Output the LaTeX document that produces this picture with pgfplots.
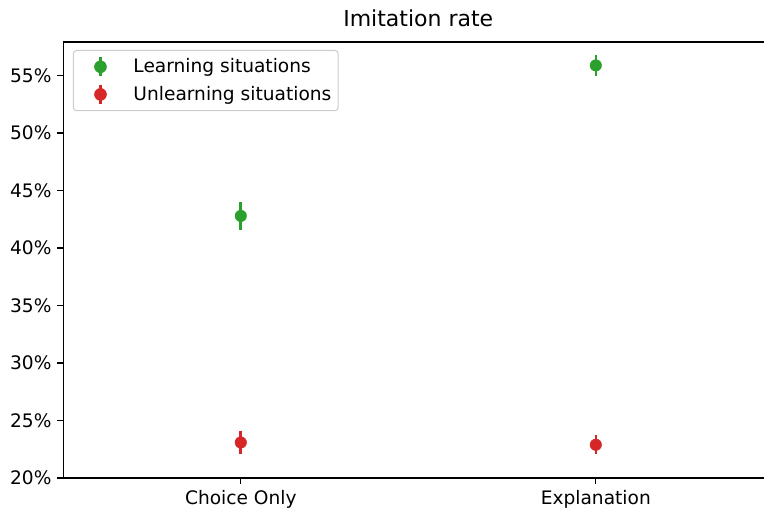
\documentclass[border=0pt]{standalone}
\usepackage{fontspec}
\setmainfont{DejaVu Sans}
\usepackage{pgfplots}
\pgfplotsset{compat=1.18}

\definecolor{mgreen}{RGB}{44,160,44}
\definecolor{mred}{RGB}{214,39,40}

% legend handle like matplotlib errorbar: vertical bar with a dot
\pgfplotsset{
  errleg/.style={legend image code/.code={
    \path[draw=none, fill=none] (0pt,0pt) -- (39.6pt,0pt);
    \draw[#1, line width=2.6pt, solid, draw opacity=1] (20.3pt,-3.5pt) -- (20.3pt,15.5pt);
    \fill[#1, fill opacity=1] (20.3pt,6pt) circle (5.8pt);
  }},
}

\begin{document}
\begin{tikzpicture}
\begin{axis}[
    at={(0pt,0pt)}, anchor=south west,
    scale only axis,
    width=710pt, height=436pt,
    xmin=-0.5, xmax=1.5,
    ymin=20, ymax=57.93,
    xtick={0,1},
    xticklabels={Choice Only, Explanation},
    ytick={20,25,30,35,40,45,50,55},
    yticklabels={20\%,25\%,30\%,35\%,40\%,45\%,50\%,55\%},
    tick pos=left,
    tick align=outside,
    major tick length=5.8pt,
    every tick/.style={black, line width=1.33pt},
    axis line style={line width=1.33pt},
    ticklabel style={font=\fontsize{18.6}{22}\selectfont},
    xticklabel style={inner sep=0pt, anchor=north, yshift=-6.2pt},
    yticklabel style={inner sep=0pt, anchor=east, xshift=-5.8pt},
    title={Imitation rate},
    title style={at={(0.5,1)}, anchor=base, yshift=9.5pt, inner sep=0pt,
                 font=\fontsize{22}{26}\selectfont},
    legend style={
        at={(0.01366,0.98165)}, anchor=north west,
        draw=black!20, line width=1pt, rounded corners=3pt,
        fill=white, fill opacity=0.8, text opacity=1,
        inner xsep=6.7pt, inner ysep=5.5pt,
        row sep=6pt, column sep=13.7pt,
        font=\fontsize{18.6}{22}\selectfont,
        nodes={inner sep=0pt, text height=16pt, text depth=4pt, anchor=base west},
    },
    legend cell align=left,
]
\addplot+[only marks, mark=*, mgreen, mark size=5.8pt,
    mark options={solid, fill=mgreen, draw=mgreen},
    errleg=mgreen,
    error bars/.cd, y dir=both, y explicit,
    error mark=none, error bar style={line width=2.6pt, mgreen}]
    coordinates {
    (0,42.80) +- (0,1.20)
    (1,55.89) +- (0,0.95)
};
\addlegendentry{Learning situations}
\addplot+[only marks, mark=*, mred, mark size=5.8pt,
    mark options={solid, fill=mred, draw=mred},
    errleg=mred,
    error bars/.cd, y dir=both, y explicit,
    error mark=none, error bar style={line width=2.6pt, mred}]
    coordinates {
    (0,23.09) +- (0,1.03)
    (1,22.89) +- (0,0.83)
};
\addlegendentry{Unlearning situations}
\end{axis}
\pgfresetboundingbox
\path[use as bounding box] (-63.3pt,-30pt) rectangle (700.7pt,478pt);
\end{tikzpicture}
\end{document}
